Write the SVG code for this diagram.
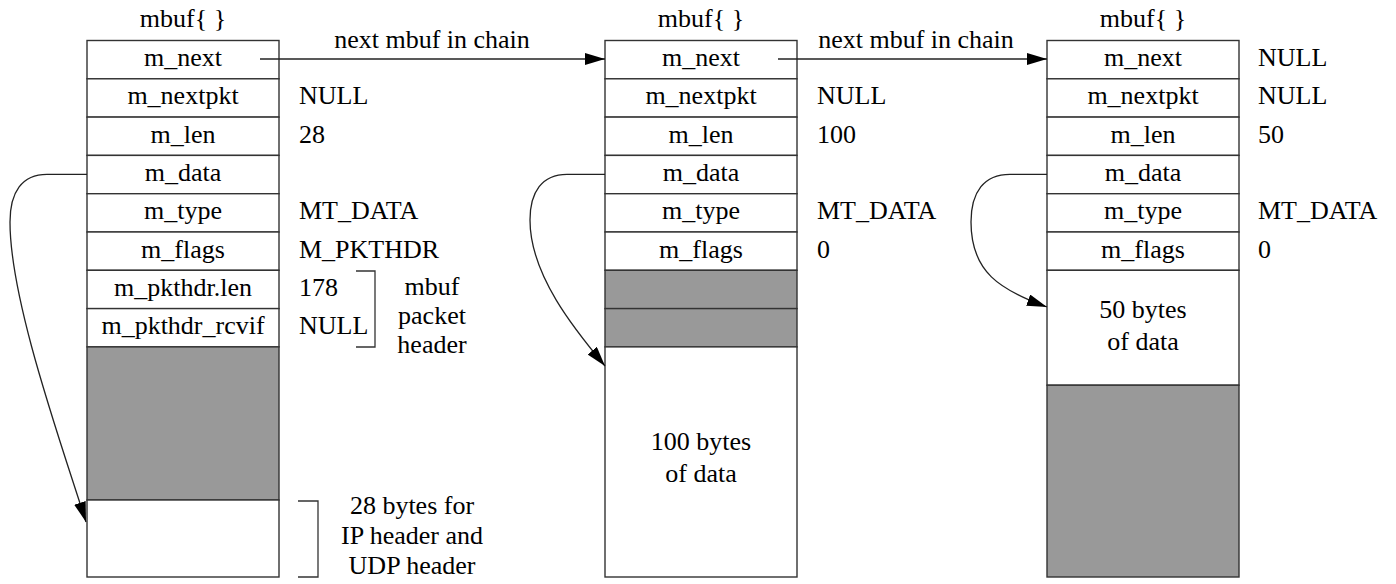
<svg xmlns="http://www.w3.org/2000/svg" width="1396" height="584" viewBox="0 0 1396 584">
<style>
text{font-family:'Liberation Serif','Times New Roman',Tinos,serif;font-size:26px;fill:#000}
.c{text-anchor:middle}
.box{fill:#fff;stroke:#333;stroke-width:1.4}
.gray{fill:#999;stroke:#333;stroke-width:1.4}
.ln{fill:none;stroke:#222;stroke-width:1.3}
.br{fill:none;stroke:#333;stroke-width:1.3}
</style>
<defs>
<marker id="ah" markerUnits="userSpaceOnUse" markerWidth="22" markerHeight="12" refX="20" refY="6" orient="auto">
<path d="M0,0 L20,6 L0,12 Z" fill="#000"/>
</marker>
</defs>
<rect width="1396" height="584" fill="#fff"/>

<g id="mbuf1">
<text class="c" x="183" y="27">mbuf{ }</text>
<rect class="box" x="87" y="40.5" width="192" height="38.3"/>
<rect class="box" x="87" y="78.8" width="192" height="38.3"/>
<rect class="box" x="87" y="117.1" width="192" height="38.3"/>
<rect class="box" x="87" y="155.4" width="192" height="38.3"/>
<rect class="box" x="87" y="193.7" width="192" height="38.3"/>
<rect class="box" x="87" y="232" width="192" height="38.3"/>
<rect class="box" x="87" y="270.3" width="192" height="38.3"/>
<rect class="box" x="87" y="308.6" width="192" height="38.3"/>
<rect class="gray" x="87" y="346.9" width="192" height="153.1"/>
<rect class="box" x="87" y="500" width="192" height="77"/>
<text class="c" x="183" y="66">m_next</text>
<text class="c" x="183" y="104.3">m_nextpkt</text>
<text class="c" x="183" y="142.6">m_len</text>
<text class="c" x="183" y="180.9">m_data</text>
<text class="c" x="183" y="219.2">m_type</text>
<text class="c" x="183" y="257.5">m_flags</text>
<text class="c" x="183" y="295.8">m_pkthdr.len</text>
<text class="c" x="183" y="334.1">m_pkthdr_rcvif</text>
<text x="299" y="104.3">NULL</text>
<text x="299" y="142.6">28</text>
<text x="299" y="219.2">MT_DATA</text>
<text x="299" y="257.5">M_PKTHDR</text>
<text x="299" y="295.8">178</text>
<text x="299" y="334.1">NULL</text>
<path class="br" d="M356,271 H375 V347 H356"/>
<text class="c" x="432" y="295">mbuf</text>
<text class="c" x="432" y="324">packet</text>
<text class="c" x="432" y="353">header</text>
<path class="br" d="M298,501 H318 V577 H298"/>
<text class="c" x="412" y="514">28 bytes for</text>
<text class="c" x="412" y="544">IP header and</text>
<text class="c" x="412" y="574">UDP header</text>
</g>

<g id="mbuf2">
<text class="c" x="701" y="27">mbuf{ }</text>
<rect class="box" x="605" y="40.5" width="192" height="38.3"/>
<rect class="box" x="605" y="78.8" width="192" height="38.3"/>
<rect class="box" x="605" y="117.1" width="192" height="38.3"/>
<rect class="box" x="605" y="155.4" width="192" height="38.3"/>
<rect class="box" x="605" y="193.7" width="192" height="38.3"/>
<rect class="box" x="605" y="232" width="192" height="38.3"/>
<rect class="gray" x="605" y="270.3" width="192" height="38.3"/>
<rect class="gray" x="605" y="308.6" width="192" height="38.3"/>
<rect class="box" x="605" y="346.9" width="192" height="230.1"/>
<text class="c" x="701" y="66">m_next</text>
<text class="c" x="701" y="104.3">m_nextpkt</text>
<text class="c" x="701" y="142.6">m_len</text>
<text class="c" x="701" y="180.9">m_data</text>
<text class="c" x="701" y="219.2">m_type</text>
<text class="c" x="701" y="257.5">m_flags</text>
<text x="817" y="104.3">NULL</text>
<text x="817" y="142.6">100</text>
<text x="817" y="219.2">MT_DATA</text>
<text x="817" y="257.5">0</text>
<text class="c" x="701" y="450">100 bytes</text>
<text class="c" x="701" y="482">of data</text>
</g>

<g id="mbuf3">
<text class="c" x="1143" y="27">mbuf{ }</text>
<rect class="box" x="1047" y="40.5" width="192" height="38.3"/>
<rect class="box" x="1047" y="78.8" width="192" height="38.3"/>
<rect class="box" x="1047" y="117.1" width="192" height="38.3"/>
<rect class="box" x="1047" y="155.4" width="192" height="38.3"/>
<rect class="box" x="1047" y="193.7" width="192" height="38.3"/>
<rect class="box" x="1047" y="232" width="192" height="38.3"/>
<rect class="box" x="1047" y="270.3" width="192" height="114.9"/>
<rect class="gray" x="1047" y="385.2" width="192" height="191.8"/>
<text class="c" x="1143" y="66">m_next</text>
<text class="c" x="1143" y="104.3">m_nextpkt</text>
<text class="c" x="1143" y="142.6">m_len</text>
<text class="c" x="1143" y="180.9">m_data</text>
<text class="c" x="1143" y="219.2">m_type</text>
<text class="c" x="1143" y="257.5">m_flags</text>
<text x="1258" y="66">NULL</text>
<text x="1258" y="104.3">NULL</text>
<text x="1258" y="142.6">50</text>
<text x="1258" y="219.2">MT_DATA</text>
<text x="1258" y="257.5">0</text>
<text class="c" x="1143" y="318">50 bytes</text>
<text class="c" x="1143" y="350">of data</text>
</g>

<g id="connectors">
<path class="ln" d="M260,59 H605" marker-end="url(#ah)"/>
<text class="c" x="432" y="48">next mbuf in chain</text>
<path class="ln" d="M778,59 H1047" marker-end="url(#ah)"/>
<text class="c" x="916" y="48">next mbuf in chain</text>
<path class="ln" d="M87,174.3 L47,174.3 C22,174.3 10,192 10,222 C10,300 60,440 86,522" marker-end="url(#ah)"/>
<path class="ln" d="M605,174.3 L567,174.3 C542,174.3 530,192 530,220 C530,275 575,330 605,366" marker-end="url(#ah)"/>
<path class="ln" d="M1047,174.3 L1010,174.3 C984,174.3 971,192 971,222 C971,272 1000,290 1047,307" marker-end="url(#ah)"/>
</g>
</svg>
